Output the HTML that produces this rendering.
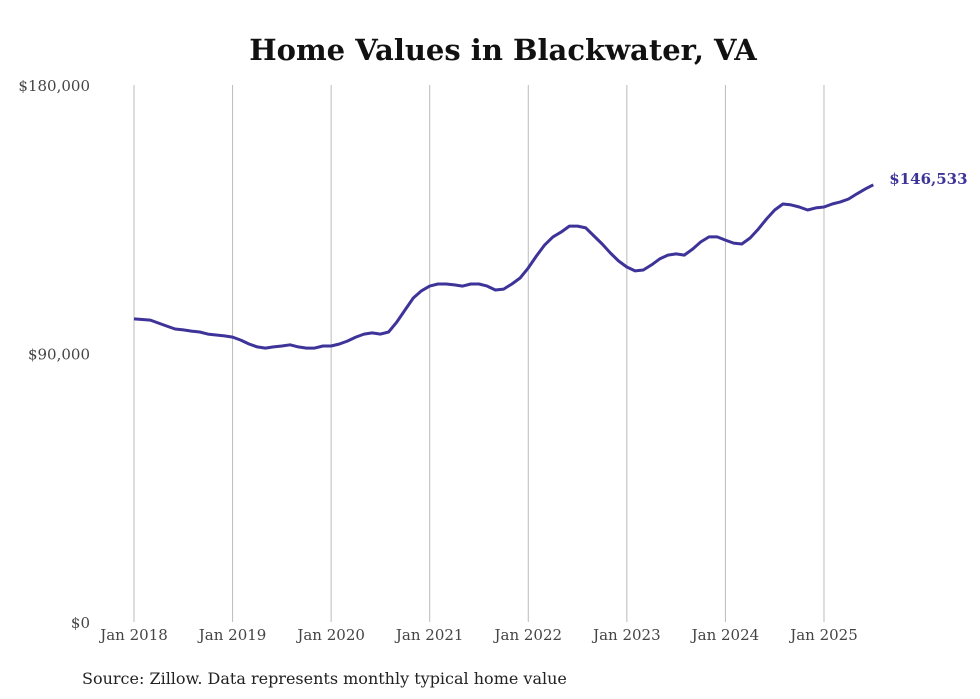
<!DOCTYPE html>
<html><head><meta charset="utf-8"><style>
body{margin:0;background:#fff;}
svg{display:block;font-family:"DejaVu Serif","Liberation Serif",serif;}
</style></head><body>
<svg id="chart" width="980" height="699">
<text x="503" y="60" text-anchor="middle" font-size="29" font-weight="bold" fill="#111">Home Values in Blackwater, VA</text>
<g id="grid"></g><g id="yticks"></g><g id="xticks"></g>
<path id="line" fill="none" stroke="#3d3399" stroke-width="3" stroke-linejoin="round"/>
<text id="endlabel" font-size="15" font-weight="bold" fill="#3d3399"></text>
<text x="82" y="684" font-size="16" fill="#222">Source: Zillow. Data represents monthly typical home value</text>
</svg>
<script>
const yTickValues=[0,90000,180000];
const yTickLabels=["$0","$90,000","$180,000"];
const xTickYears=[2018,2019,2020,2021,2022,2023,2024,2025];
const xTickLabels=["Jan 2018","Jan 2019","Jan 2020","Jan 2021","Jan 2022","Jan 2023","Jan 2024","Jan 2025"];
const values=[
101600,101400,101200,100200,99200,98200,97900,97500,97200,96500,96200,95900,
95500,94500,93200,92200,91800,92200,92500,92900,92200,91800,91800,92500,
92500,93200,94200,95500,96500,96900,96500,97200,100600,104600,108600,111000,
112600,113300,113300,113000,112600,113300,113300,112600,111300,111600,113300,115300,
118700,122700,126400,129100,130700,132700,132700,132100,129400,126700,123700,121000,
119000,117700,118000,119700,121700,123000,123400,123000,125000,127400,129100,129100,
128000,127000,126700,128700,131700,135100,138100,140100,139800,139100,138100,138800,
139100,140100,140800,141800,143500,145100,146533];
const startYear=2018;
const NS="http://www.w3.org/2000/svg";
const x=m=>134+(m/12)*98.57;
const y=v=>622-v/180000*537;
const grid=document.getElementById('grid'),yt=document.getElementById('yticks'),xt=document.getElementById('xticks');
xTickYears.forEach((yr,i)=>{
  const gx=x((yr-startYear)*12);
  const l=document.createElementNS(NS,'line');
  l.setAttribute('x1',gx);l.setAttribute('x2',gx);l.setAttribute('y1',85);l.setAttribute('y2',622);
  l.setAttribute('stroke','#bbb');l.setAttribute('stroke-width','1');
  
  
  grid.appendChild(l);
  const t=document.createElementNS(NS,'text');
  t.setAttribute('x',gx);t.setAttribute('y',640);t.setAttribute('text-anchor','middle');
  t.setAttribute('font-size','15');t.setAttribute('fill','#444');
  t.textContent=xTickLabels[i];
  
  
  xt.appendChild(t);
});
yTickValues.forEach((v,i)=>{
  const t=document.createElementNS(NS,'text');
  t.setAttribute('x',90);t.setAttribute('y',y(v)+6);t.setAttribute('text-anchor','end');
  t.setAttribute('font-size','15');t.setAttribute('fill','#444');
  t.textContent=yTickLabels[i];
  
  
  yt.appendChild(t);
});
document.getElementById('line').setAttribute('d',values.map((v,i)=>(i?'L':'M')+x(i).toFixed(1)+','+y(v).toFixed(1)).join(''));
const last=values.length-1,el=document.getElementById('endlabel');
el.setAttribute('x',x(last)+16);el.setAttribute('y',y(values[last])-1);
el.textContent='$'+values[last].toLocaleString('en-US');
</script>
</body></html>
